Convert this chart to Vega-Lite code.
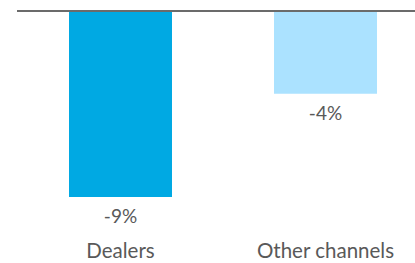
{
  "$schema": "https://vega.github.io/schema/vega-lite/v6.json",
  "autosize": "none",
  "width": 398,
  "height": 186,
  "padding": {"left": 17, "top": 11, "right": 0, "bottom": 66},
  "config": {"view": {"stroke": null}, "font": "Lato"},
  "data": {"values": [
    {"channel": "Dealers", "value": -9, "label": "-9%"},
    {"channel": "Other channels", "value": -4, "label": "-4%"}
  ]},
  "layer": [
    {"mark": {"type": "bar", "clip": false},
      "encoding": {
        "x": {"field": "channel", "type": "nominal", "sort": null,
          "scale": {"range": [0, 412], "paddingInner": 0.4976, "paddingOuter": 0.2537},
          "axis": {"title": null, "domain": false, "ticks": false, "labelAngle": 0,
            "labelFontSize": 20.5, "labelColor": "#595959", "labelPadding": 44, "labelFont": "Lato"}},
        "y": {"field": "value", "type": "quantitative", "scale": {"domain": [-9, 0], "nice": false}, "axis": null},
        "color": {"field": "channel", "type": "nominal", "scale": {"range": ["#00A9E3", "#ABE2FF"]}, "legend": null}
      }},
    {"mark": {"type": "text", "baseline": "top", "dy": 11, "fontSize": 19, "color": "#595959"},
      "encoding": {
        "x": {"field": "channel", "type": "nominal", "sort": null},
        "y": {"field": "value", "type": "quantitative"},
        "text": {"field": "label"}
      }},
    {"mark": {"type": "rule", "color": "#6b6b6b", "strokeWidth": 2},
      "encoding": {"y": {"datum": 0}}}
  ]
}
